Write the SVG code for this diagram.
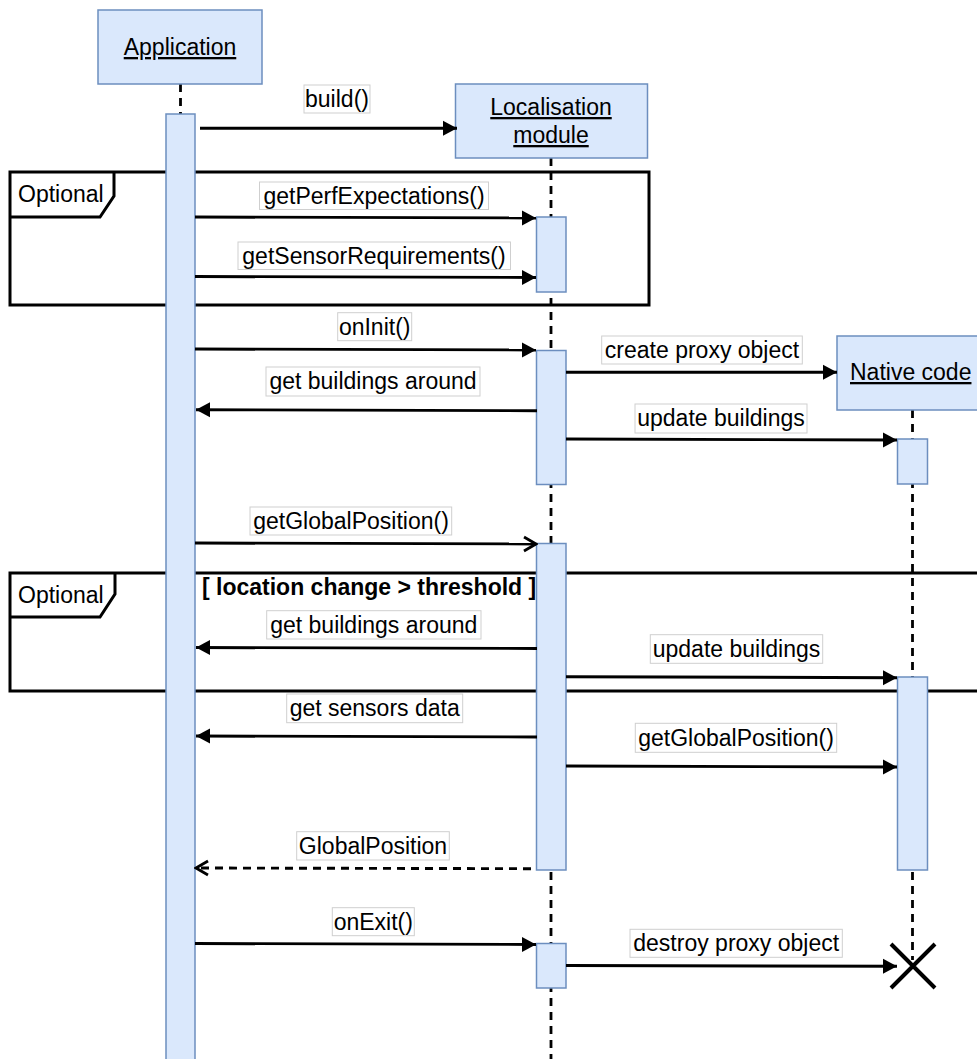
<svg xmlns="http://www.w3.org/2000/svg" width="977" height="1059" viewBox="0 0 977 1059">
<defs>
<style>
.box{fill:#dae8fc;stroke:#6c8ebf;stroke-width:1.5}
.act{fill:#dae8fc;stroke:#6c8ebf;stroke-width:1.5}
.life{stroke:#000;stroke-width:2.8;stroke-dasharray:8 6;fill:none}
.msg{stroke:#000;stroke-width:2.9;fill:none}
.ret{stroke:#000;stroke-width:2.9;fill:none;stroke-dasharray:8 6}
.frame{fill:none;stroke:#000;stroke-width:3}
.lbl{fill:#fff;stroke:#cfcfcf;stroke-width:1}
text{font-family:"Liberation Sans",Arial,Helvetica,sans-serif;font-size:23px;fill:#000}
.c{text-anchor:middle}
.u{text-decoration:underline}
.b{font-weight:bold}
</style>
<marker id="fill" markerWidth="15" markerHeight="18" refX="14" refY="9" orient="auto" markerUnits="userSpaceOnUse">
<path d="M0,1.5 L14,9 L0,16.5 Z" fill="#000"/>
</marker>
<marker id="open" markerWidth="16" markerHeight="18" refX="14" refY="9" orient="auto" markerUnits="userSpaceOnUse">
<path d="M2,2 L14,9 L2,16" fill="none" stroke="#000" stroke-width="2.8"/>
</marker>
</defs>
<rect width="977" height="1059" fill="#fff"/>

<!-- lifelines -->
<g id="lifelines">
<line class="life" x1="180.5" y1="84" x2="180.5" y2="114"/>
<line class="life" x1="551" y1="158" x2="551" y2="1059"/>
<line class="life" x1="912.5" y1="410" x2="912.5" y2="960"/>
</g>

<!-- frames -->
<g id="frame1">
<rect class="frame" x="10" y="172" width="639" height="133"/>
<path class="frame" d="M10,217 L100,217 L114,196 L114,172"/>
<text x="18" y="202">Optional</text>
</g>
<g id="frame2">
<rect class="frame" x="10" y="573" width="980" height="118"/>
<path class="frame" d="M10,617 L100,617 L115,594 L115,573"/>
<text x="18" y="603">Optional</text>
<text class="b" x="202" y="595">[ location change &gt; threshold ]</text>
</g>

<!-- participants -->
<g id="application">
<rect class="box" x="98" y="10" width="164" height="74"/>
<text class="c u" x="180" y="55">Application</text>
</g>
<g id="localisation">
<rect class="box" x="455.5" y="84" width="192" height="74"/>
<text class="c u" x="551" y="115">Localisation</text>
<text class="c u" x="551" y="143">module</text>
</g>
<g id="native">
<rect class="box" x="837" y="336" width="150" height="74"/>
<text class="u" x="850" y="380">Native code</text>
</g>

<!-- activations -->
<g id="activations">
<rect class="act" x="166" y="114" width="29" height="960"/>
<rect class="act" x="536.5" y="217" width="29.5" height="75"/>
<rect class="act" x="536.5" y="350.5" width="29.5" height="134"/>
<rect class="act" x="536.5" y="543.5" width="29.5" height="326.5"/>
<rect class="act" x="536.5" y="943.5" width="29.5" height="44.5"/>
<rect class="act" x="897.5" y="439" width="30" height="45"/>
<rect class="act" x="897.5" y="677" width="30" height="193"/>
</g>

<!-- connectors -->
<g id="connectors">
<line class="msg" x1="200" y1="128.3" x2="457" y2="128.3" marker-end="url(#fill)"/>
<line class="msg" x1="195" y1="217" x2="536" y2="218" marker-end="url(#fill)"/>
<line class="msg" x1="195" y1="276.5" x2="536" y2="277.5" marker-end="url(#fill)"/>
<line class="msg" x1="195" y1="349" x2="536" y2="350" marker-end="url(#fill)"/>
<line class="msg" x1="566" y1="372.3" x2="837" y2="372.3" marker-end="url(#fill)"/>
<line class="msg" x1="537" y1="410.7" x2="196" y2="409.7" marker-end="url(#fill)"/>
<line class="msg" x1="566" y1="439" x2="897" y2="440" marker-end="url(#fill)"/>
<line class="msg" x1="195" y1="543" x2="536" y2="544" marker-end="url(#open)"/>
<line class="msg" x1="537" y1="648.5" x2="196" y2="647.5" marker-end="url(#fill)"/>
<line class="msg" x1="566" y1="676.7" x2="897" y2="677.7" marker-end="url(#fill)"/>
<line class="msg" x1="537" y1="737" x2="196" y2="736" marker-end="url(#fill)"/>
<line class="msg" x1="566" y1="766" x2="897" y2="767" marker-end="url(#fill)"/>
<line class="ret" x1="531" y1="868.7" x2="196" y2="868" marker-end="url(#open)"/>
<line class="msg" x1="195" y1="943.5" x2="536" y2="944.5" marker-end="url(#fill)"/>
<line class="msg" x1="566" y1="965.5" x2="897" y2="966.3" marker-end="url(#fill)"/>
<path d="M891,944 L935,988 M935,944 L891,988" stroke="#000" stroke-width="4" fill="none"/>
</g>

<!-- labels -->
<g id="labels">
<rect class="lbl" x="304" y="85" width="66" height="28"/>
<text class="c" x="337" y="107">build()</text>
<rect class="lbl" x="259.5" y="182" width="229" height="27.5"/>
<text class="c" x="374" y="204">getPerfExpectations()</text>
<rect class="lbl" x="238" y="242" width="272.5" height="27.5"/>
<text class="c" x="374" y="264">getSensorRequirements()</text>
<rect class="lbl" x="337.7" y="312.7" width="74" height="28"/>
<text class="c" x="374.7" y="335">onInit()</text>
<rect class="lbl" x="601.7" y="336" width="200.6" height="28"/>
<text class="c" x="702" y="358">create proxy object</text>
<rect class="lbl" x="266" y="367" width="214" height="29"/>
<text class="c" x="373" y="389">get buildings around</text>
<rect class="lbl" x="635" y="404" width="172" height="29"/>
<text class="c" x="721" y="426">update buildings</text>
<rect class="lbl" x="250" y="507" width="201.7" height="28"/>
<text class="c" x="351" y="529">getGlobalPosition()</text>
<rect class="lbl" x="266.7" y="610.7" width="214.3" height="28.3"/>
<text class="c" x="373.8" y="632.5">get buildings around</text>
<rect class="lbl" x="650.3" y="634.7" width="172.4" height="28.6"/>
<text class="c" x="736.5" y="656.5">update buildings</text>
<rect class="lbl" x="286.7" y="694" width="176" height="28.7"/>
<text class="c" x="374.7" y="716">get sensors data</text>
<rect class="lbl" x="635.3" y="723.3" width="201.4" height="29"/>
<text class="c" x="736" y="745.5">getGlobalPosition()</text>
<rect class="lbl" x="296.7" y="831.7" width="152.6" height="28.3"/>
<text class="c" x="373" y="853.5">GlobalPosition</text>
<rect class="lbl" x="332.3" y="907.7" width="82" height="28"/>
<text class="c" x="373.3" y="929.5">onExit()</text>
<rect class="lbl" x="630" y="929.3" width="212.3" height="28"/>
<text class="c" x="736.2" y="951">destroy proxy object</text>
</g>
</svg>
